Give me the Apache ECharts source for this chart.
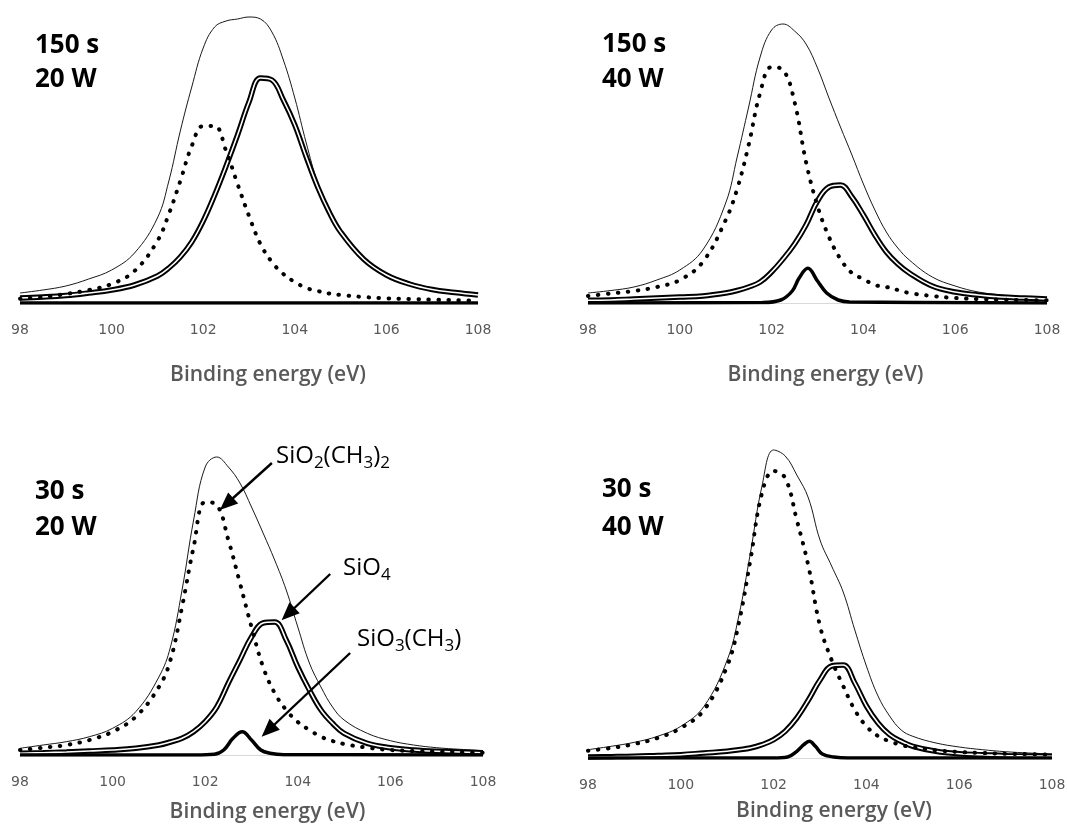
<!DOCTYPE html>
<html>
<head>
<meta charset="utf-8">
<title>Si 2p fits</title>
<script src="https://cdn.jsdelivr.net/npm/echarts@6/dist/echarts.min.js"></script>
<style>
html, body { margin: 0; padding: 0; background: #fff; }
#chart { width: 1067px; height: 828px; }
</style>
</head>
<body>
<div id="chart"></div>
<script>
// binding energy grid (eV) shared by envelope, SiO2(CH3)2 and SiO4
const energy = [98, 98.5, 99, 99.5, 100, 100.5, 101, 101.25, 101.5, 101.75, 102, 102.25, 102.5, 102.75,
  103, 103.25, 103.5, 103.75, 104, 104.25, 104.5, 104.75, 105, 105.5, 106, 106.5, 107, 107.5, 108];
const tickLabels = [98, 100, 102, 104, 106, 108];
const axisTitle = "Binding energy (eV)";
const panelLabels = [["150 s", "20 W"], ["150 s", "40 W"], ["30 s", "20 W"], ["30 s", "40 W"]];

// 150 s, 20 W
const env1 = [10, 13, 17, 24, 33, 50, 85, 122, 172, 216, 255, 276, 282, 284, 286, 284, 271, 243, 205, 160, 120, 93, 72, 46, 30, 21, 15, 12, 10];
const dmc1 = [4.3, 6, 9, 13, 19, 32, 62, 89, 122, 157, 177, 177, 152, 119, 87, 59, 41, 29, 21, 15, 12, 9.5, 8, 6, 4.7, 4, 3.3, 2.8, 2.3];
const q1 = [5, 6, 7.5, 10, 13, 18, 27, 35, 46, 61, 82, 108, 137, 168, 201, 225, 223, 203, 178, 146, 116, 91, 71, 44, 28, 19, 13.5, 10.5, 8];
const tE1 = [98, 108];
const t1 = [0, 0];

// 150 s, 40 W
const env2 = [10, 12.5, 16, 23, 33, 53, 100, 146, 196, 246, 273, 279, 272, 259, 235, 205, 176, 148, 119, 93, 71, 55, 43, 26, 17, 11, 8, 6, 5];
const dmc2 = [7, 9.5, 12, 16, 23, 41, 83, 114, 158, 210, 236, 233, 201, 141, 97, 66, 44, 30, 24, 18, 16, 13, 10, 7, 5, 4, 3.3, 3, 2.7];
const q2 = [2.7, 3, 4, 5, 6, 7, 10, 12.5, 16, 21, 31, 44, 59, 78, 102, 116, 118, 106, 88, 68, 51, 39, 30, 17, 11, 8, 6, 5, 4];
const tE2 = [98, 101.8, 102.2, 102.45, 102.6, 102.79, 103.0, 103.2, 103.45, 103.7, 108];
const t2 = [0, 0.5, 3, 12, 25, 34.7, 22, 10, 3, 1, 0];

// 30 s, 20 W
const env3 = [6.7, 10, 13.3, 18.3, 26.7, 43.3, 78, 108, 165, 235, 288, 298, 288, 272, 248, 222, 195, 165, 128, 92, 68, 48, 35, 21.7, 14.3, 10, 7.3, 5.7, 4.3];
const dmc3 = [5, 7.3, 10, 15, 23.3, 38.3, 68, 95, 148, 208, 253, 250, 215, 172, 128, 88, 62, 45, 33, 25, 18.3, 14, 11, 7.3, 5, 4, 3.3, 2.8, 2.3];
const q3 = [1.7, 2.3, 3, 4, 5, 6.7, 10, 13, 16.7, 23.3, 33.3, 48, 72, 95, 118, 132, 133, 115, 88, 65, 45, 31.7, 21.7, 11.7, 7.3, 5, 3.7, 3, 2.3];
const tE3 = [98, 101.8, 102.2, 102.4, 102.6, 102.8, 103.0, 103.2, 103.4, 103.7, 108];
const t3 = [0, 0, 0.7, 5, 16.7, 23.3, 15, 5, 1.7, 0.3, 0];

// 30 s, 40 W
const env4 = [8.3, 11.7, 15.7, 21.7, 31.7, 51.7, 98, 142, 205, 272, 308, 302, 283, 260, 218, 192, 166, 128, 92, 62, 42, 28, 21.7, 15, 11, 8.3, 6.3, 5, 4];
const dmc4 = [7.3, 10, 14, 20, 30, 48, 92, 135, 198, 265, 287, 280, 238, 192, 132, 98, 72, 48, 31.7, 22, 16.7, 13, 10.7, 7.7, 6, 5, 4.3, 3.8, 3.3];
const q4 = [1, 1.3, 1.7, 2.5, 3.3, 5, 6.7, 8.3, 10, 13.3, 18.3, 26.7, 40, 58, 78, 92, 93, 75, 52, 35, 23.3, 16.7, 11.7, 6.7, 4.3, 3.3, 2.3, 2, 1.7];
const tE4 = [98, 102.0, 102.3, 102.5, 102.65, 102.77, 102.9, 103.05, 103.3, 103.6, 108];
const t4 = [0, 0, 1, 6.7, 13.3, 16.7, 11.7, 4, 1, 0, 0];

// arrows in panel 3 (start, end) as [eV, intensity]
const arrows = [
  [[103.44, 292], [102.46, 251]],
  [[104.70, 181], [103.79, 141]],
  [[105.13, 102], [103.36, 24.5]]
];

function pairs(xs, ys) {
  return xs.map((x, i) => [x, ys[i]]);
}

const panels = [
  { env: env1, dmc: dmc1, q: q1, tE: tE1, t: t1 },
  { env: env2, dmc: dmc2, q: q2, tE: tE2, t: t2 },
  { env: env3, dmc: dmc3, q: q3, tE: tE3, t: t3 },
  { env: env4, dmc: dmc4, q: q4, tE: tE4, t: t4 }
];

// grid boxes (px) and y range for each panel
const grids = [
  { left: 20, right: 589, top: 13, bottom: 525, ymax: 290, gap: 62, pad: 38 },
  { left: 588, right: 20, top: 13, bottom: 525, ymax: 290, gap: 62, pad: 16 },
  { left: 20, right: 584, top: 455, bottom: 73, ymax: 300, gap: 47, pad: 32 },
  { left: 588, right: 15, top: 438, bottom: 70, ymax: 320, gap: 43, pad: 28 }
];

const option = {
  backgroundColor: "#fff",
  animation: false,
  grid: [],
  xAxis: [],
  yAxis: [],
  series: [],
  graphic: []
};

grids.forEach((g, i) => {
  option.grid.push({ left: g.left, right: g.right, top: g.top, bottom: g.bottom, outerBoundsMode: "none" });
  option.xAxis.push({
    gridIndex: i,
    type: "value",
    min: tickLabels[0],
    max: tickLabels[tickLabels.length - 1],
    interval: 2,
    showMinLabel: true,
    showMaxLabel: true,
    axisLine: { show: true, lineStyle: { color: "#d9d9d9", width: 1 } },
    axisTick: { show: false },
    splitLine: { show: false },
    axisLabel: { color: "#595959", fontFamily: "DejaVu Sans", fontSize: 14, margin: 20 },
    name: axisTitle,
    nameLocation: "middle",
    nameGap: g.gap,
    nameTextStyle: {
      color: "#595959",
      fontFamily: "Open Sans",
      fontWeight: 600,
      fontSize: 21,
      padding: [0, 0, 0, g.pad]
    }
  });
  option.yAxis.push({ gridIndex: i, type: "value", min: 0, max: g.ymax, show: false });

  const p = panels[i];
  const base = { type: "line", xAxisIndex: i, yAxisIndex: i, showSymbol: false, smooth: 0.4, silent: true };
  option.series.push(Object.assign({}, base, {
    name: "Envelope",
    data: pairs(energy, p.env),
    lineStyle: { color: "#1a1a1a", width: 1 },
    markLine: i === 2 ? {
      silent: true,
      symbol: ["none", "triangle"],
      symbolSize: [15, 18],
      label: { show: false },
      lineStyle: { color: "#000", width: 2.4, type: "solid" },
      data: arrows.map(a => [{ coord: a[0] }, { coord: a[1] }])
    } : undefined
  }));
  option.series.push(Object.assign({}, base, {
    name: "SiO4",
    data: pairs(energy, p.q),
    lineStyle: { color: "#000", width: 5.5 }
  }));
  option.series.push(Object.assign({}, base, {
    name: "SiO4 inner",
    data: pairs(energy, p.q),
    lineStyle: { color: "#fff", width: 1.6 }
  }));
  option.series.push(Object.assign({}, base, {
    name: "SiO2(CH3)2",
    data: pairs(energy, p.dmc),
    lineStyle: { color: "#000", width: 4, type: [0.5, 9.5], cap: "round" }
  }));
  option.series.push(Object.assign({}, base, {
    name: "SiO3(CH3)",
    data: pairs(p.tE, p.t),
    lineStyle: { color: "#000", width: 3.5 }
  }));
});

// panel labels (time / power)
const labelPos = [[35, 46, 80], [602, 45, 80], [35, 492, 528], [602, 490, 528]];
panelLabels.forEach((lines, i) => {
  lines.forEach((txt, k) => {
    option.graphic.push({
      type: "text",
      x: labelPos[i][0],
      y: labelPos[i][1 + k],
      silent: true,
      style: {
        text: txt,
        fill: "#000",
        font: "bold 26px 'Open Sans'",
        verticalAlign: "middle"
      }
    });
  });
});

// component names with subscripts
const subStyle = { fontSize: 17, fontFamily: "Open Sans", fill: "#000", padding: [15, 0, 0, 0] };
const mainStyle = { fontSize: 24, fontFamily: "Open Sans", fill: "#000" };
const compLabels = [
  { x: 276, y: 456, text: "{m|SiO}{s|2}{m|(CH}{s|3}{m|)}{s|2}" },
  { x: 343, y: 568, text: "{m|SiO}{s|4}" },
  { x: 357, y: 639, text: "{m|SiO}{s|3}{m|(CH}{s|3}{m|)}" }
];
compLabels.forEach(c => {
  option.graphic.push({
    type: "text",
    x: c.x,
    y: c.y,
    silent: true,
    style: {
      text: c.text,
      verticalAlign: "middle",
      rich: { m: mainStyle, s: subStyle }
    }
  });
});

const chart = echarts.init(document.getElementById("chart"));
chart.setOption(option);
</script>
</body>
</html>
